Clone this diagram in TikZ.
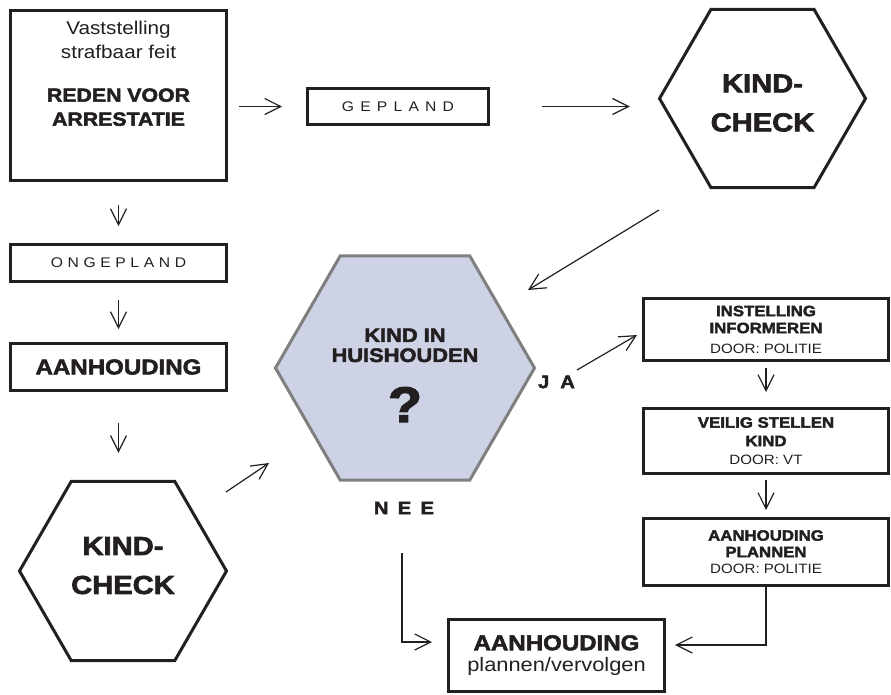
\documentclass[tikz,border=0pt]{standalone}
\usepackage{fontspec}
\setmainfont{Liberation Sans}[FakeStretch=1.12, BoldFeatures={FakeBold=2.5}]
\usetikzlibrary{arrows.meta,shapes.geometric,calc}
\definecolor{ink}{HTML}{231F20}
\definecolor{hexfill}{HTML}{CDD3E5}
\definecolor{hexline}{HTML}{7F7F7F}
\newcommand{\fs}[2]{\fontsize{#1}{#2}\selectfont}
\begin{document}
\begin{tikzpicture}[x=1pt,y=-1pt,
  every node/.style={text=ink},
  box/.style={draw=ink, line width=3pt, rectangle, inner sep=0pt, align=center},
  hexa/.style={draw=ink, line width=3pt, regular polygon, regular polygon sides=6, inner sep=0pt, align=center},
  arr/.style={draw=ink, line width=1.2pt, -{Straight Barb[length=16pt,width=16pt]}},
  lbl/.style={font=\bfseries\fs{18}{20}, inner sep=0pt}
]
\useasboundingbox (0,0) rectangle (891,694);

% left column
\node[box, minimum width=216pt, minimum height=170pt, font=\fs{18.5}{24}] (reden) at (118.5,95.5)
  {Vaststelling\\strafbaar feit\\[19pt]\bfseries\fs{19}{22}REDEN VOOR\\\bfseries\fs{19}{22}ARRESTATIE\rule[-44pt]{0pt}{0pt}};
\node[box, minimum width=216pt, minimum height=37pt, font=\fs{14}{16}] (ongepl) at (118.5,263)
  {O\hspace{4.6pt}N\hspace{4.6pt}G\hspace{4.6pt}E\hspace{4.6pt}P\hspace{4.6pt}L\hspace{4.6pt}A\hspace{4.6pt}N\hspace{4.6pt}D};
\node[box, minimum width=216pt, minimum height=47pt, font=\bfseries\fs{21.5}{23}] (aanh1) at (118.5,367) {AANHOUDING};
\node[hexa, minimum size=207pt, font=\bfseries\fs{26}{39}] (kc2) at (123,571) {KIND-\\CHECK\rule[-11pt]{0pt}{0pt}};

% top row
\node[box, minimum width=181pt, minimum height=36pt, font=\fs{14}{16}] (gepland) at (398,106.5)
  {G\hspace{6.2pt}E\hspace{6.2pt}P\hspace{6.2pt}L\hspace{6.2pt}A\hspace{6.2pt}N\hspace{6.2pt}D};
\node[hexa, minimum size=206pt, font=\bfseries\fs{26}{39}] (kc1) at (762.5,98.5) {\rule{0pt}{27pt}KIND-\\CHECK};

% central decision
\node[hexa, draw=hexline, fill=hexfill, minimum size=259pt, font=\bfseries\fs{19.5}{20}] (hex) at (405,368)
  {\rule{0pt}{28pt}KIND IN\\HUISHOUDEN\\[24pt]{\fs{50}{50}?}};
\node[lbl] (ja) at (556.5,382) {J\hspace{11pt}A};
\node[lbl] (nee) at (404,508) {N\hspace{9.3pt}E\hspace{9.3pt}E};

% right column
\node[box, minimum width=245pt, minimum height=62pt, font=\bfseries\fs{15}{17}] (inst) at (766,329.5)
  {INSTELLING\\INFORMEREN\\[3pt]{\mdseries\fs{13.5}{17}DOOR: POLITIE}};
\node[box, minimum width=245pt, minimum height=65pt, font=\bfseries\fs{15}{18.5}] (veilig) at (766,441)
  {VEILIG STELLEN\\KIND\\{\mdseries\fs{13.5}{18.5}DOOR: VT}};
\node[box, minimum width=245pt, minimum height=67pt, font=\bfseries\fs{15}{16.5}] (plannen) at (766,552)
  {AANHOUDING\\PLANNEN\\{\mdseries\fs{13.5}{16.5}DOOR: POLITIE}};

% final
\node[box, minimum width=216pt, minimum height=72pt, font=\bfseries\fs{21.5}{21.5}] (final) at (556.5,655.5)
  {AANHOUDING\\{\mdseries\fs{19.5}{21.5}plannen/vervolgen}};

% free connector ends
\coordinate (a3s) at ([shift={(-103.5,111.5)}]kc1.center);
\coordinate (a3e) at ([shift={(123,-78)}]hex.center);
\coordinate (a7s) at ([shift={(103,-79)}]kc2.center);
\coordinate (a7e) at ([shift={(-136,95)}]hex.center);
\coordinate (a8s) at ([shift={(172,2)}]hex.center);
\coordinate (a8e) at ([shift={(-129,5.5)}]inst.center);
\coordinate (a12s) at ([shift={(-3,185)}]hex.center);

% connectors
\draw[arr, shorten <=11pt, shorten >=24pt] (reden.east |- gepland.west) -- (gepland.west);
\draw[arr, shorten <=52pt, shorten >=28pt] (gepland.east) -- (gepland.east -| kc1.west);
\draw[arr] (a3s) -- (a3e);
\draw[arr, shorten <=23pt, shorten >=17pt] (reden.south) -- (ongepl.north);
\draw[arr, shorten <=17pt, shorten >=13pt] (ongepl.south) -- (aanh1.north);
\draw[arr, shorten <=31pt, shorten >=27pt] (aanh1.south) -- (aanh1.south |- kc2.north);
\draw[arr] (a7s) -- (a7e);
\draw[arr] (a8s) -- (a8e);
\draw[arr, shorten <=6pt, shorten >=15pt] (inst.south) -- (veilig.north);
\draw[arr, shorten <=5pt, shorten >=7pt] (veilig.south) -- (plannen.north);
\draw[arr, shorten >=9pt] (plannen.south) |- ([shift={(0,-10.5)}]final.east);
\draw[arr, shorten >=15pt] (a12s) |- ([shift={(0,-13.5)}]final.west);
\end{tikzpicture}
\end{document}
